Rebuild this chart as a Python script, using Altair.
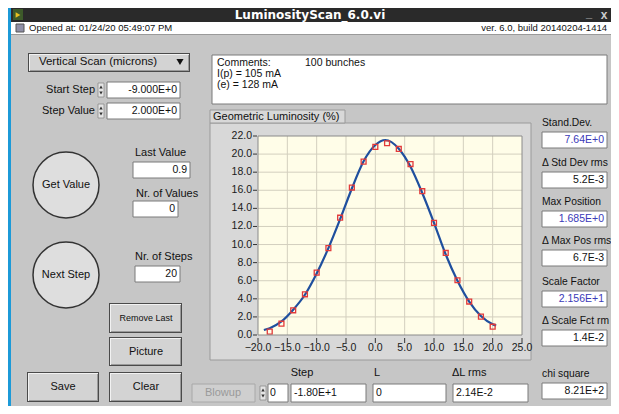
import altair as alt
import pandas as pd

# ---------------- data ----------------
step = [-18, -16, -14, -12, -10, -8, -6, -4, -2, 0, 2, 4, 6, 8, 10, 12, 14, 16, 18, 20]
lumi = [0.37, 1.25, 2.73, 4.5, 6.9, 9.6, 12.97, 16.3, 19.17, 20.8, 21.2, 20.57,
        18.9, 15.9, 12.4, 9.07, 6.05, 3.7, 2.03, 0.92]
fit_x = [-19, -18, -16, -14, -12, -10, -8, -6, -4, -2, 0, 1.7, 4, 6, 8, 10, 12,
         14, 16, 18, 20, 20.6]
fit_y = [0.55, 0.75, 1.5, 2.8, 4.45, 6.8, 9.6, 12.8, 16.2, 19.2, 21.0, 21.56,
         20.6, 18.6, 15.7, 12.4, 8.9, 6.0, 3.7, 2.1, 1.2, 1.05]
x_ticks = [-20, -15, -10, -5, 0, 5, 10, 15, 20, 25]
y_ticks = [0, 2, 4, 6, 8, 10, 12, 14, 16, 18, 20, 22]
x_grid = [-15, -10, -5, 0, 5, 10, 15, 20]
y_grid = [2, 4, 6, 8, 10, 12, 14, 16, 18, 20]

# ---------------- layout (page pixel coordinates) ----------------
OX, OY = 258, 136          # top-left of the plot area on the page
PW, PH = 264, 199          # plot area size
FONT = "Liberation Sans"
ONE = alt.Data(values=[{"k": 0}])


def R(x1, y1, x2, y2, fill, stroke=None, sw=1.0):
    props = dict(fill=fill, strokeWidth=sw)
    if stroke:
        props["stroke"] = stroke
    return alt.Chart(ONE).mark_rect(**props).encode(
        x=alt.value(x1 - OX), x2=alt.value(x2 - OX),
        y=alt.value(y1 - OY), y2=alt.value(y2 - OY))


def T(s, x, y, size=11, align="left", color="#111111", weight="normal", font=FONT):
    return alt.Chart(ONE).mark_text(
        text=s, align=align, baseline="middle", fontSize=size, font=font,
        color=color, fontWeight=weight).encode(x=alt.value(x - OX), y=alt.value(y - OY))


def BTN(x1, y1, x2, y2):
    return [R(x1, y1, x2, y2, "#4a4a4a"),
            R(x1 + 1, y1 + 1, x2 - 1, y2 - 1, "#f2f2f2"),
            R(x1 + 2, y1 + 2, x2 - 1, y2 - 1, "#9a9a9a"),
            R(x1 + 2, y1 + 2, x2 - 2, y2 - 2, "#d3d3d3")]


def BOX(x1, y1, x2, y2):
    return [R(x1, y1, x2, y2, "#ffffff", "#7a7a7a", 1)]


def CIRC(x, y, d):
    return alt.Chart(ONE).mark_point(
        shape="circle", filled=True, fill="#dedede", stroke="#333333",
        strokeWidth=1.5, size=d * d, opacity=1).encode(
        x=alt.value(x - OX), y=alt.value(y - OY))


def TRI(x, y, shape, size, color="#111111"):
    return alt.Chart(ONE).mark_point(
        shape=shape, filled=True, color=color, size=size, opacity=1).encode(
        x=alt.value(x - OX), y=alt.value(y - OY))


def SPIN(x, y):
    return [R(x - 3, y - 7, x + 3, y + 7, "#e4e4e4", "#8a8a8a", 0.8),
            TRI(x, y - 3, "triangle-up", 12, "#333333"),
            TRI(x, y + 3, "triangle-down", 12, "#333333")]


layers = []
# window
layers += [R(11, 8, 611, 22, "#2a2a2a"),
           R(11, 22, 611, 34, "#ffffff"),
           R(11, 34, 611, 406, "#c6c6c6"),
           R(11, 34, 611, 35, "#9a9a9a"),
           R(13, 9, 23, 20, "#3d5a2a"),
           TRI(18, 15, "triangle-right", 30, "#e8c020"),
           R(16, 24, 24, 32, "#9090a8", "#555555")]
layers += [T("LuminosityScan_6.0.vi", 310, 15, 12, "center", "#ffffff", "bold", "DejaVu Sans"),
           T("_", 589, 14, 11, "center", "#cccccc", "bold"),
           T("x", 604, 15, 12, "center", "#cccccc", "bold"),
           T("Opened at: 01/24/20 05:49:07 PM", 29, 28, 9.5),
           T("ver. 6.0, build 20140204-1414", 607, 28, 9.5, "right")]
# left controls
layers += BTN(28, 53, 190, 72)
layers += [T("Vertical Scan (microns)", 98, 62, 11.5, "center"),
           TRI(180, 62, "triangle-down", 50)]
layers += BOX(107, 82, 180, 98) + BOX(107, 103, 180, 119)
layers += SPIN(101, 90) + SPIN(101, 111)
layers += [T("Start Step", 95, 90, 11, "right"), T("-9.000E+0", 177, 90, 10.5, "right"),
           T("Step Value", 95, 111, 11, "right"), T("2.000E+0", 177, 111, 10.5, "right")]
# comments
layers += BOX(212, 55, 607, 104)
layers += [T("Comments:", 217, 63, 10.5), T("100 bunches", 305, 63, 10.5),
           T("I(p) = 105 mA", 217, 74, 10.5), T("(e) = 128 mA", 217, 85, 10.5)]
# round buttons and indicators
layers += [CIRC(66, 185, 66), T("Get Value", 66, 185, 11, "center"),
           CIRC(66, 275, 66), T("Next Step", 66, 275, 11, "center")]
layers += BOX(133, 162, 190, 178) + BOX(133, 201, 178, 217) + BOX(135, 266, 180, 282)
layers += [T("Last Value", 135, 153, 11), T("0.9", 187, 170, 10.5, "right"),
           T("Nr. of Values", 136, 194, 11), T("0", 175, 209, 10.5, "right"),
           T("Nr. of Steps", 135, 257, 11), T("20", 177, 274, 10.5, "right")]
# push buttons
layers += BTN(109, 303, 182, 333) + BTN(109, 337, 182, 366)
layers += BTN(27, 372, 99, 402) + BTN(109, 372, 182, 402)
layers += [T("Remove Last", 146, 318, 9, "center"), T("Picture", 146, 352, 11, "center"),
           T("Save", 63, 387, 11, "center"), T("Clear", 146, 387, 11, "center")]
# bottom row
layers += [R(192, 384, 255, 402, "#cfcfcf", "#a8a8a8"), T("Blowup", 223, 393, 11, "center", "#9a9a9a")]
layers += BOX(268, 384, 288, 402) + SPIN(263, 393)
layers += BOX(291, 384, 366, 402) + BOX(373, 384, 446, 402) + BOX(453, 384, 528, 402)
layers += [T("0", 270, 393, 10.5),
           T("Step", 302, 373, 11, "center"), T("-1.80E+1", 294, 393, 10.5),
           T("L", 377, 373, 11, "center"), T("0", 376, 393, 10.5),
           T("\u0394L rms", 452, 373, 11), T("2.14E-2", 456, 393, 10.5)]
# right panel
right = [("Stand.Dev.", "7.64E+0", True, 123),
         ("\u0394 Std Dev rms", "5.2E-3", False, 163),
         ("Max Position", "1.685E+0", True, 202),
         ("\u0394 Max Pos rms", "6.7E-3", False, 241),
         ("Scale Factor", "2.156E+1", True, 282),
         ("\u0394 Scale Fct rm", "1.4E-2", False, 321),
         ("chi square", "8.21E+2", False, 374)]
for lab, val, blue, yy in right:
    layers += BOX(542, yy + 9, 607, yy + 25)
    layers += [T(lab, 542, yy, 10.3),
               T(val, 604, yy + 17, 10.5, "right", "#3a3ab8" if blue else "#111111")]

# graph panel
layers += [R(210, 123, 531, 360, "#d8d8d8", "#9a9a9a"),
           R(210, 110, 345, 123, "#d8d8d8", "#9a9a9a"),
           T("Geometric Luminosity (%)", 213, 117, 11)]

# ---------------- the plot ----------------
xscale = alt.Scale(domain=[-20, 25], nice=False, zero=False)
yscale = alt.Scale(domain=[0, 22], nice=False, zero=False)

plot_bg = R(OX, OY, OX + PW, OY + PH, "#fffde8")
vgrid = alt.Chart(pd.DataFrame({"g": x_grid})).mark_rule(color="#d3cfbe", strokeWidth=1).encode(
    x=alt.X("g:Q", scale=xscale, axis=None))
hgrid = alt.Chart(pd.DataFrame({"g": y_grid})).mark_rule(color="#d3cfbe", strokeWidth=1).encode(
    y=alt.Y("g:Q", scale=yscale, axis=None))
fit_df = pd.DataFrame({"Step": fit_x, "Fit": fit_y})
curve = alt.Chart(fit_df).mark_line(color="#1f4f9e", strokeWidth=2.2, interpolate="monotone").encode(
    x=alt.X("Step:Q", scale=xscale, axis=None),
    y=alt.Y("Fit:Q", scale=yscale, axis=None))
pts_df = pd.DataFrame({"Step": step, "Luminosity": lumi})
points = alt.Chart(pts_df).mark_point(shape="square", filled=False, color="#e23a3a",
                                      size=24, strokeWidth=1.3, opacity=1).encode(
    x=alt.X("Step:Q", scale=xscale, axis=None),
    y=alt.Y("Luminosity:Q", scale=yscale, axis=None))
frame = alt.Chart(ONE).mark_rect(fillOpacity=0, stroke="#8a8a8a", strokeWidth=1).encode(
    x=alt.value(0), x2=alt.value(PW), y=alt.value(0), y2=alt.value(PH))

# tick marks and tick labels placed through the same scales
xt_df = pd.DataFrame({"v": x_ticks})
yt_df = pd.DataFrame({"v": y_ticks})
x_tick_marks = alt.Chart(xt_df).mark_rule(color="#333333", strokeWidth=1).encode(
    x=alt.X("v:Q", scale=xscale, axis=None), y=alt.value(PH + 3), y2=alt.value(PH + 8))
x_tick_labels = alt.Chart(xt_df).mark_text(font=FONT, fontSize=10.5, color="#1a1a1a",
                                           baseline="middle", align="center").encode(
    x=alt.X("v:Q", scale=xscale, axis=None), y=alt.value(PH + 13),
    text=alt.Text("v:Q", format=".1f"))
y_tick_marks = alt.Chart(yt_df).mark_rule(color="#333333", strokeWidth=1).encode(
    y=alt.Y("v:Q", scale=yscale, axis=None), x=alt.value(-5), x2=alt.value(-1))
y_tick_labels = alt.Chart(yt_df).mark_text(font=FONT, fontSize=10.5, color="#1a1a1a",
                                           baseline="middle", align="right").encode(
    y=alt.Y("v:Q", scale=yscale, axis=None), x=alt.value(-6),
    text=alt.Text("v:Q", format=".1f"))

layers += [plot_bg, vgrid, hgrid, curve, points, frame,
           x_tick_marks, x_tick_labels, y_tick_marks, y_tick_labels]

chart = alt.layer(*layers).properties(
    width=PW, height=PH,
    padding={"left": OX - 8, "top": OY - 8, "right": 603 - (OX - 8) - PW,
             "bottom": 398 - (OY - 8) - PH},
    autosize=alt.AutoSizeParams(type="none"),
    background="#1c9ad8",
).configure_view(stroke=None)

chart.save("out.html", embed_options={"renderer": "svg", "actions": False})
